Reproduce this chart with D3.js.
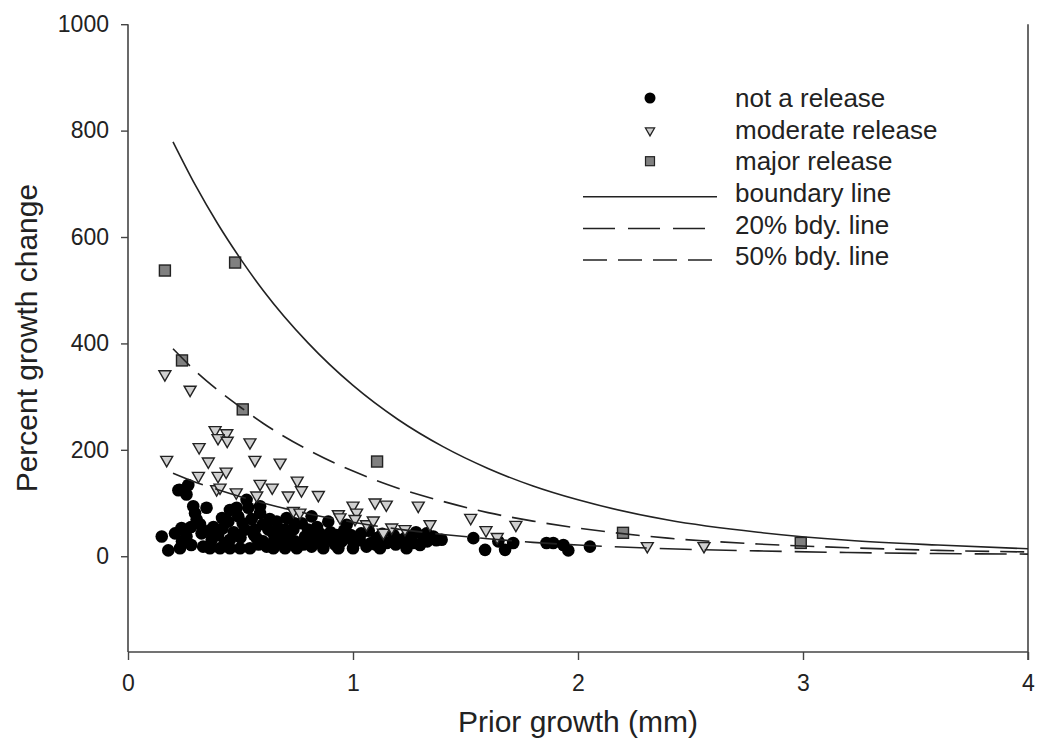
<!DOCTYPE html>
<html>
<head>
<meta charset="utf-8">
<script src="https://cdn.jsdelivr.net/npm/d3@7"></script>
<style>
  body { margin: 0; background: #fff; }
  svg text { font-family: "Liberation Sans", Arial, sans-serif; fill: #222; }
</style>
</head>
<body>
<div id="chart"></div>
<script>
// --- data ---
const notRelease = [
  [0.15,37],[0.179,11],[0.231,15],[0.209,43],[0.228,125],[0.268,134],[0.26,116],[0.224,124],
  [0.238,53],[0.29,94],[0.298,81],[0.349,91],[0.305,69],[0.26,37],[0.281,21],[0.327,43],
  [0.334,18],[0.364,15],[0.372,31],[0.409,15],[0.418,72],[0.453,87],[0.446,65],[0.453,31],
  [0.453,15],[0.483,91],[0.49,75],[0.527,106],[0.535,91],[0.52,50],[0.498,15],[0.542,15],
  [0.564,50],[0.587,94],[0.587,81],[0.572,34],[0.616,18],[0.624,50],[0.646,43],[0.646,15],
  [0.661,65],[0.676,37],[0.705,72],[0.698,15],[0.735,50],[0.742,28],[0.75,15],[0.772,62],
  [0.787,37],[0.816,75],[0.816,18],[0.853,43],[0.868,15],[0.89,65],[0.883,31],[0.927,40],
  [0.935,15],[0.972,59],[1.0,28],[1.0,15],[1.036,43],[1.06,18],[1.105,34],[1.12,15],
  [1.15,25],[1.216,31],[1.238,15],[1.268,25],[1.312,37],[1.298,21],[1.327,43],[1.357,37],
  [1.394,31],[1.535,34],[1.587,12],[1.646,28],[1.676,12],[1.712,25],[1.86,25],[1.89,25],
  [1.935,21],[1.957,11],[2.053,18],
  [0.6,28],[0.7,50],[0.8,50],[0.95,28],[1.08,25],[1.18,40],[0.55,70],[0.4,40],[0.38,55],
  [0.72,30],[0.86,25],[0.5,35],[0.65,30],
  [0.32,60],[0.36,48],[0.42,52],[0.47,45],[0.51,62],[0.56,40],[0.6,60],[0.63,70],
  [0.67,52],[0.69,25],[0.74,62],[0.78,22],[0.82,35],[0.84,55],[0.9,45],[0.92,22],
  [0.96,48],[0.99,40],[1.03,30],[1.07,48],[1.1,22],[1.13,42],[1.19,22],[1.24,38],
  [1.28,45],[1.33,28],[1.37,30],[0.28,55],[0.24,28],[0.43,25],[0.58,22],[0.71,40]
];
const moderateRelease = [
  [0.164,344],[0.276,315],[0.387,239],[0.439,233],[0.40,224],[0.441,219],[0.542,216],[0.316,207],
  [0.172,183],[0.357,180],[0.564,183],[0.676,178],[0.313,153],[0.40,153],[0.436,161],[0.587,138],
  [0.641,131],[0.752,144],[0.771,126],[0.846,117],[0.712,116],[0.394,128],[0.409,131],[0.481,122],
  [0.572,116],[0.735,87],[0.764,84],[0.935,81],[0.942,75],[1.0,97],[1.016,84],[1.009,72],
  [1.06,62],[1.09,69],[1.098,103],[1.148,99],[1.135,46],[1.172,56],[1.231,53],[1.29,97],
  [1.342,62],[1.523,74],[1.591,51],[1.641,38],[1.724,61],[2.308,21],[2.56,21]
];
const majorRelease = [
  [0.164,537],[0.476,552],[0.24,368],[0.51,276],[1.107,178],[2.2,44],[2.99,25]
];

// fitted lines
const lineX     = [0.2, 0.3, 0.4, 0.5, 0.6, 0.8, 1.0, 1.2, 1.4, 1.6, 1.8, 2.0, 2.4, 2.8, 3.2, 3.6, 4.0];
const boundary  = [779, 697, 624, 559, 500, 401, 321, 257, 206, 165, 132, 106, 68, 45, 30, 21, 14];
const bdy50     = [390, 348, 312, 280, 250, 200, 160, 128, 103, 82, 66, 53, 34, 23, 16, 11, 8];
const bdy20     = [156, 139, 125, 112, 100, 80, 64, 51, 41, 33, 26, 21, 14, 10, 7, 5, 4];

const xTicks = [0, 1, 2, 3, 4];
const yTicks = [0, 200, 400, 600, 800, 1000];

const legendItems = [
  { label: "not a release", kind: "circle" },
  { label: "moderate release", kind: "triangle" },
  { label: "major release", kind: "square" },
  { label: "boundary line", kind: "line", dash: null },
  { label: "20% bdy. line", kind: "line", dash: "32,13" },
  { label: "50% bdy. line", kind: "line", dash: "24,11" }
];

// --- layout ---
const W = 1038, H = 740;
const mLeft = 128, mRight = 1028, mTop = 24.2, mBottom = 652;

const svg = d3.select("#chart").append("svg").attr("width", W).attr("height", H);

const x = d3.scaleLinear().domain([0, 4]).range([mLeft, mRight]);
const y = d3.scaleLinear().domain([-180, 1000]).range([mBottom, mTop]);

const axisColor = "#444";

// axes
const gx = svg.append("g").attr("transform", `translate(0,${mBottom})`)
  .call(d3.axisBottom(x).tickValues(xTicks).tickFormat(d3.format("d")).tickSize(8).tickPadding(15));
const gy = svg.append("g").attr("transform", `translate(${mLeft},0)`)
  .call(d3.axisLeft(y).tickValues(yTicks).tickFormat(d3.format("d")).tickSize(7).tickPadding(12));
[gx, gy].forEach(g => {
  g.select(".domain").attr("stroke", axisColor).attr("stroke-width", 1.6);
  g.selectAll(".tick line").attr("stroke", axisColor).attr("stroke-width", 1.4);
  g.selectAll(".tick text").attr("font-size", 23).attr("fill", "#222")
    .attr("font-family", "Liberation Sans, Arial, sans-serif");
});
gx.select(".domain").attr("d", `M${mLeft},0H${mRight}`);
gy.select(".domain").attr("d", `M0,${mBottom}V${mTop}`);
// right frame line
svg.append("line").attr("x1", mRight).attr("x2", mRight).attr("y1", mTop).attr("y2", mBottom + 8)
  .attr("stroke", axisColor).attr("stroke-width", 1.6);

// axis titles
svg.append("text").attr("x", (mLeft + mRight) / 2).attr("y", 732)
  .attr("text-anchor", "middle").attr("font-size", 30).text("Prior growth (mm)");
svg.append("text")
  .attr("transform", `translate(37,${(mTop + mBottom) / 2}) rotate(-90)`)
  .attr("text-anchor", "middle").attr("font-size", 30).text("Percent growth change");

// symbols
const triPath = d3.symbol().type(d3.symbolTriangle).size(62)();
const triPathSmall = d3.symbol().type(d3.symbolTriangle).size(36)();

// points
const plot = svg.append("g");
plot.selectAll("circle.nr").data(notRelease).join("circle")
  .attr("class", "nr")
  .attr("cx", d => x(d[0])).attr("cy", d => y(d[1])).attr("r", 6.3)
  .attr("fill", "#000");

plot.selectAll("path.mr").data(moderateRelease).join("path")
  .attr("class", "mr")
  .attr("d", triPath)
  .attr("transform", d => `translate(${x(d[0])},${y(d[1]) + 1}) rotate(180)`)
  .attr("fill", "#d0d0d0").attr("stroke", "#222").attr("stroke-width", 1.4);

plot.selectAll("rect.mj").data(majorRelease).join("rect")
  .attr("class", "mj")
  .attr("x", d => x(d[0]) - 5.5).attr("y", d => y(d[1]) - 5.5)
  .attr("width", 11).attr("height", 11)
  .attr("fill", "#808080").attr("stroke", "#222").attr("stroke-width", 1.4);

// curves
const lineGen = d3.line()
  .x((d, i) => x(lineX[i]))
  .y(d => y(d))
  .curve(d3.curveMonotoneX);

[[boundary, null], [bdy50, "24,11"], [bdy20, "32,13"]].forEach(([vals, dash]) => {
  svg.append("path").datum(vals)
    .attr("d", lineGen)
    .attr("fill", "none").attr("stroke", "#222").attr("stroke-width", 1.6)
    .attr("stroke-dasharray", dash);
});

// legend
const leg = svg.append("g");
const legTop = 98, legStep = 31.6, markX = 650, textX = 735;
legendItems.forEach((it, i) => {
  const cy = legTop + i * legStep;
  if (it.kind === "circle") {
    leg.append("circle").attr("cx", markX).attr("cy", cy).attr("r", 5.5).attr("fill", "#000");
  } else if (it.kind === "triangle") {
    leg.append("path").attr("d", triPathSmall)
      .attr("transform", `translate(${markX},${cy + 1}) rotate(180)`)
      .attr("fill", "#d0d0d0").attr("stroke", "#222").attr("stroke-width", 1.3);
  } else if (it.kind === "square") {
    leg.append("rect").attr("x", markX - 4.5).attr("y", cy - 4.5).attr("width", 9).attr("height", 9)
      .attr("fill", "#808080").attr("stroke", "#222").attr("stroke-width", 1.2);
  } else {
    leg.append("line").attr("x1", 583).attr("x2", 717).attr("y1", cy + 4).attr("y2", cy + 4)
      .attr("stroke", "#222").attr("stroke-width", 1.5).attr("stroke-dasharray", it.dash);
  }
  leg.append("text").attr("x", textX).attr("y", cy).attr("dy", "0.35em")
    .attr("font-size", 26).text(it.label);
});
</script>
</body>
</html>
